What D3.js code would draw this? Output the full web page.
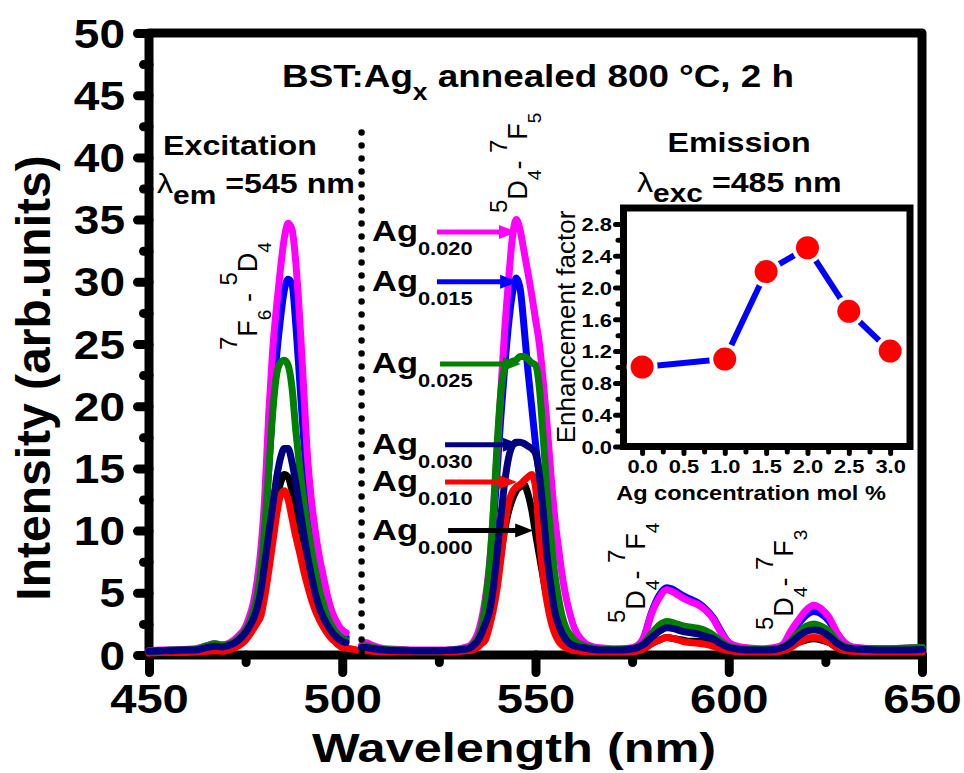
<!DOCTYPE html>
<html>
<head>
<meta charset="utf-8">
<script src="https://cdn.jsdelivr.net/npm/d3@7"></script>
<style>
  body { margin: 0; background: #fff; }
  svg { display: block; }
  text { font-family: "Liberation Sans", Arial, Helvetica, sans-serif; fill: #000; }
</style>
</head>
<body>
<svg id="chart" width="964" height="773"></svg>
<script>
// ---------- spectra: wavelength grids (nm) ----------
const excWavelength = [450,453,456,459,462,465,467,469,471,473,475,476,477,478,479,480,481,482,483,484,485,486,487,488,489,490,491,492,493,494,495,496,497,498,499,500,501,503,505];
const emWavelength = [505,506,508,511,515,520,525,529,531,
  533,534,535,536,537,538,539,540,541,542,543,544,545,546,547,548,549,550,551,552,553,554,555,556,557,558,559,560,
  562,565,568,571,574,
  576,578,580,582,584,586,588,590,592,594,596,598,600,
  603,606,609,612,
  614,616,618,620,622,624,626,628,630,632,
  635,640,645,650];

// ---------- excitation intensities (arb. units), lambda_em = 545 nm ----------
const ag000Exc = [0.25,0.25,0.3,0.3,0.35,0.45,0.55,0.5,0.65,0.95,1.5,2,2.5,3.3,4.6,6.5,8.5,10.5,12.4,13.8,14.5,14.3,13.2,11.6,9.8,8,6.5,5.2,4,3.1,2.4,1.9,1.5,1.2,0.9,0.7,0.6,null,null];
const ag010Exc = [0.15,0.2,0.2,0.2,0.25,0.3,0.35,0.3,0.45,0.7,1.2,1.6,2.1,2.6,3.2,4.8,6.8,9,11.2,12.8,13.2,12.5,11,9.5,8.2,6.8,5.6,4.5,3.6,2.9,2.3,1.8,1.4,1.1,0.8,0.6,0.55,0.45,0.3];
const ag015Exc = [0.3,0.35,0.4,0.4,0.45,0.65,0.75,0.7,0.9,1.3,2,2.7,3.7,5.3,7.5,10.5,15,20,24,27,29.3,30.2,29.8,26.5,22,17.5,13.5,10.5,8.5,7,5.5,4.3,3.3,2.5,2,1.6,1.4,null,null];
const ag020Exc = [0.35,0.4,0.4,0.45,0.5,0.75,0.9,0.8,1.0,1.5,2.3,3.1,4.2,6,8.7,13,19.5,24.5,28,31,33.5,34.7,34.2,31.5,27,21.5,16,12.5,10,8,6.5,5,3.8,3,2.4,2,1.8,null,null];
const ag025Exc = [0.3,0.35,0.4,0.4,0.45,0.75,0.9,0.8,0.9,1.3,2,2.6,3.5,4.8,7,10.5,15,19.5,22.5,23.5,23.7,23.3,21.5,18,15,12.5,10.3,8.5,6.8,5.3,4.2,3.2,2.5,2,1.6,1.3,1.2,null,null];
const ag030Exc = [0.3,0.35,0.35,0.4,0.4,0.6,0.7,0.65,0.8,1.15,1.8,2.3,2.9,3.8,5.3,7.5,9.8,12,14.2,15.8,16.6,16.6,15.5,13.8,11.8,9.8,8,6.4,5,3.9,3.1,2.5,2,1.6,1.3,1.1,1.0,null,null];

// ---------- emission intensities (arb. units), lambda_exc = 485 nm ----------
const ag000Em = [0.4,0.4,0.35,0.3,0.3,0.3,0.3,0.3,0.3,
  0.35,0.55,0.8,1.2,1.8,2.8,4,5.8,8,10,11.5,12.5,13.2,13.5,13.7,13,11.7,9.8,8,6.2,4.5,3.3,2.3,1.5,1.0,0.7,0.55,0.45,
  0.35,0.3,0.3,0.3,0.3,
  0.35,0.5,0.9,1.2,1.4,1.3,1.2,1.1,1.1,1.0,0.8,0.6,0.4,
  0.3,0.3,0.3,0.3,
  0.4,0.7,1.0,1.2,1.3,1.2,1.0,0.6,0.4,0.35,
  0.3,0.3,0.3,0.3];
const ag010Em = [0.35,0.35,0.3,0.25,0.25,0.25,0.25,0.25,0.3,
  0.35,0.45,0.6,0.9,1.2,2.2,3.5,5.2,7.6,10.2,12.2,13.1,13.5,13.7,14,14.3,14.5,13.5,9.5,6.3,4.2,2.7,1.7,1.1,0.75,0.55,0.45,0.35,
  0.3,0.25,0.25,0.25,0.25,
  0.3,0.5,0.9,1.2,1.4,1.3,1.1,1.0,0.95,0.85,0.7,0.5,0.35,
  0.25,0.25,0.25,0.25,
  0.35,0.6,1.0,1.3,1.4,1.3,1.0,0.6,0.35,0.3,
  0.25,0.25,0.25,0.25];
const ag015Em = [0.6,0.7,0.6,0.45,0.4,0.35,0.35,0.4,0.45,
  0.6,0.9,1.4,2.4,4,6.5,10,14.5,19,23,26.5,29,30.3,29.5,26.5,23,20,17,14.5,12,9.5,7.5,5.5,4,2.8,2,1.4,1.0,
  0.7,0.5,0.45,0.45,0.5,
  0.65,1.4,3.4,4.8,5.4,5.2,4.8,4.5,4.2,3.7,3.0,1.9,1.0,
  0.6,0.5,0.45,0.55,
  0.75,1.6,2.5,3.2,3.5,3.3,2.7,1.7,0.9,0.6,
  0.5,0.45,0.5,0.55];
const ag020Em = [0.8,1.0,0.75,0.5,0.45,0.4,0.4,0.45,0.55,
  0.75,1.1,1.7,2.8,4.5,7,11,16,21,26,30,33.5,35,34.2,32.5,30.8,29,27,25,22,18.5,14.5,11,8.5,6.2,4.5,3.2,2.2,
  1.2,0.65,0.55,0.5,0.55,
  0.7,1.4,3.3,4.6,5.25,5.0,4.6,4.3,4.05,3.6,2.9,1.8,1.0,
  0.65,0.55,0.5,0.6,
  0.85,1.9,2.8,3.6,4.0,3.7,3.0,1.8,1.0,0.65,
  0.55,0.5,0.55,0.6];
const ag025Em = [0.65,0.75,0.6,0.45,0.4,0.35,0.35,0.4,0.45,
  0.6,0.9,1.3,2.2,4,6.8,11,16.5,21,23,23.4,23.6,23.7,24,24,23.8,23.5,23.3,21.5,17.5,13,9.5,6.5,4.5,3,2.1,1.6,1.2,
  0.8,0.55,0.45,0.45,0.5,
  0.6,0.95,1.7,2.4,2.7,2.55,2.35,2.25,2.15,1.95,1.6,1.1,0.7,
  0.5,0.45,0.45,0.5,
  0.65,1.1,1.8,2.3,2.5,2.3,1.9,1.1,0.7,0.55,
  0.5,0.5,0.55,0.6];
const ag030Em = [0.6,0.6,0.5,0.4,0.35,0.35,0.35,0.4,0.45,
  0.55,0.8,1.1,1.7,2.5,3.4,5.2,8,11,13.8,15.8,16.8,17.1,17.1,17,16.8,16.6,16.2,14.5,11.5,8,5.5,3.5,2.4,1.7,1.2,0.9,0.75,
  0.6,0.45,0.4,0.4,0.45,
  0.55,0.85,1.4,1.9,2.2,2.1,1.9,1.8,1.7,1.5,1.3,0.9,0.6,
  0.45,0.4,0.4,0.45,
  0.6,0.95,1.5,1.9,2.0,1.9,1.5,0.95,0.6,0.5,
  0.45,0.4,0.4,0.45];

// ---------- legend: Ag fraction, colour, arrow (intensity level, tail / tip wavelength) ----------
const legendFractions = ["0.020","0.015","0.025","0.030","0.010","0.000"];
const legendColors    = ["#ff00ff","#0000ff","#008000","#000080","#ff0000","#000000"];
const arrowLevel = [34.0, 30.0, 23.4, 16.9, 13.9, 10.0];
const arrowTail  = [524.5, 524.5, 525.3, 526.6, 526.6, 527.4];
const arrowTip   = [545.2, 545.5, 546.2, 546.2, 545.2, 549.4];

// ---------- inset: enhancement factor vs Ag concentration ----------
const agConcentration   = [0.0, 1.0, 1.5, 2.0, 2.5, 3.0];
const enhancementFactor = [1.0, 1.1, 2.2, 2.5, 1.7, 1.2];

// ---------- tick values ----------
const intensityTicks  = [0,5,10,15,20,25,30,35,40,45,50];
const wavelengthTicks = [450,500,550,600,650];
const concTicks   = [0.0,0.5,1.0,1.5,2.0,2.5,3.0];
const factorTicks = [0.0,0.4,0.8,1.2,1.6,2.0,2.4,2.8];

// ================= drawing =================
const SX = 1.15;                       // horizontal glyph stretch used for labels
const svg = d3.select("#chart");

const x = d3.scaleLinear().domain([450, 650]).range([149, 922]);
const y = d3.scaleLinear().domain([0, 50]).range([655, 33]);

// stretched text anchored at (px,py)
function sText(parent, px, py, size, anchor = "start", weight = "bold", sx = SX) {
  return parent.append("g")
    .attr("transform", `translate(${px},${py}) scale(${sx},1)`)
    .append("text")
    .attr("text-anchor", anchor)
    .attr("font-size", size)
    .attr("font-weight", weight);
}
function stretchTickText(axisG, dy) {
  axisG.selectAll(".tick text").each(function () {
    const t = d3.select(this);
    const tx = +t.attr("x") || 0, ty = +t.attr("y") || 0;
    t.attr("x", 0).attr("y", 0).attr("transform", `translate(${tx},${ty}) scale(${SX},1)`);
    if (dy) t.attr("dy", dy);
  });
}

// ---- main frame ----
svg.append("rect")
  .attr("x", x.range()[0]).attr("y", y.range()[1])
  .attr("width", x.range()[1] - x.range()[0]).attr("height", y.range()[0] - y.range()[1])
  .attr("fill", "none").attr("stroke", "#000").attr("stroke-width", 9).attr("stroke-linejoin", "round");

// ---- main axes ----
const yMinor = d3.range(2.5, 50, 5);
const xMinor = [475, 525, 575, 625];

const yAxisMinor = svg.append("g").attr("transform", `translate(${x.range()[0]},0)`)
  .call(d3.axisLeft(y).tickValues(yMinor).tickSize(5.5).tickFormat(""));
const yAxis = svg.append("g").attr("transform", `translate(${x.range()[0]},0)`)
  .call(d3.axisLeft(y).tickValues(intensityTicks).tickSize(11.5).tickPadding(12.5));
const xAxisMinor = svg.append("g").attr("transform", `translate(0,${y.range()[0]})`)
  .call(d3.axisBottom(x).tickValues(xMinor).tickSize(7.5).tickFormat(""));
const xAxis = svg.append("g").attr("transform", `translate(0,${y.range()[0]})`)
  .call(d3.axisBottom(x).tickValues(wavelengthTicks).tickSize(17.5).tickPadding(11.5));

[yAxisMinor, yAxis, xAxisMinor, xAxis].forEach(g => {
  g.select(".domain").remove();
  g.selectAll(".tick line").attr("stroke", "#000").attr("stroke-width", 9).attr("stroke-linecap", "round");
  g.attr("font-family", null).attr("font-size", null);
});
yAxis.selectAll(".tick text").attr("font-size", 40).attr("font-weight", "bold");
xAxis.selectAll(".tick text").attr("font-size", 41).attr("font-weight", "bold");
stretchTickText(yAxis, "0.35em");
stretchTickText(xAxis);

// ---- spectra ----
const series = [
  { exc: ag000Exc, em: ag000Em, color: "#000000" },
  { exc: ag010Exc, em: ag010Em, color: "#ff0000" },
  { exc: ag015Exc, em: ag015Em, color: "#0000ff" },
  { exc: ag020Exc, em: ag020Em, color: "#ff00ff" },
  { exc: ag025Exc, em: ag025Em, color: "#008000" },
  { exc: ag030Exc, em: ag030Em, color: "#000080" }
];
const line = d3.line()
  .defined(d => d[1] != null)
  .x(d => x(d[0])).y(d => y(d[1]))
  .curve(d3.curveMonotoneX);

const curves = svg.append("g").attr("fill", "none")
  .attr("stroke-width", 7).attr("stroke-linejoin", "round").attr("stroke-linecap", "round");
series.forEach(s => {
  curves.append("path").attr("stroke", s.color)
    .attr("d", line(excWavelength.map((w, i) => [w, s.exc[i]])));
  curves.append("path").attr("stroke", s.color)
    .attr("d", line(emWavelength.map((w, i) => [w, s.em[i]])));
});

// ---- dotted separator between excitation and emission ----
svg.append("line")
  .attr("x1", x(505)).attr("x2", x(505))
  .attr("y1", y(42)).attr("y2", y(0))
  .attr("stroke", "#000").attr("stroke-width", 6.5)
  .attr("stroke-linecap", "round").attr("stroke-dasharray", "0,13");

// ---- legend labels with arrows ----
legendFractions.forEach((frac, i) => {
  const ya = y(arrowLevel[i]);
  const xt = x(arrowTip[i]), xs = x(arrowTail[i]);
  svg.append("line").attr("x1", xs).attr("x2", xt - 14).attr("y1", ya).attr("y2", ya)
    .attr("stroke", legendColors[i]).attr("stroke-width", 5);
  svg.append("path")
    .attr("d", `M${xt},${ya} L${xt - 18},${ya - 7} L${xt - 18},${ya + 7} Z`)
    .attr("fill", legendColors[i]);
  const t = sText(svg, 372, ya + 9, 30);
  t.append("tspan").text("Ag");
  t.append("tspan").attr("font-size", 19).attr("dy", 14).text(frac);
});

// ---- headings ----
{
  const t = sText(svg, 538, 87, 32, "middle");
  t.append("tspan").text("BST:Ag");
  t.append("tspan").attr("font-size", 23).attr("dy", 13).text("x");
  t.append("tspan").attr("dy", -13).text(" annealed 800 \u00B0C, 2 h");
}
sText(svg, 240, 155, 28, "middle").text("Excitation");
{
  const t = sText(svg, 157, 193, 28);
  t.append("tspan").attr("font-weight", "normal").text("\u03BB");
  t.append("tspan").attr("font-size", 26).attr("dy", 11).text("em");
  t.append("tspan").attr("dy", -11).text(" =545 nm");
}
sText(svg, 739, 152, 28, "middle").text("Emission");
{
  const t = sText(svg, 637, 192, 28);
  t.append("tspan").attr("font-weight", "normal").text("\u03BB");
  t.append("tspan").attr("font-size", 26).attr("dy", 10).text("exc");
  t.append("tspan").attr("dy", -10).text(" =485 nm");
}

// ---- transition labels (vertical) ----
function transitionLabel(px, py, parts) {
  const t = svg.append("g").attr("transform", `translate(${px},${py}) rotate(-90)`)
    .append("text").attr("font-size", 27);
  const shift = { main: 0, sup: -20, sub: 14 };
  const size = { main: 27, sup: 24, sub: 19 };
  let cur = 0;
  parts.forEach(([txt, kind]) => {
    t.append("tspan").attr("font-size", size[kind]).attr("dy", shift[kind] - cur).text(txt);
    cur = shift[kind];
  });
}
transitionLabel(257, 350, [["7","sup"],["F","main"],["6","sub"],[" - ","main"],["5","sup"],["D","main"],["4","sub"]]);
transitionLabel(527, 213, [["5","sup"],["D","main"],["4","sub"],["- ","main"],["7","sup"],["F","main"],["5","sub"]]);
transitionLabel(645, 623, [["5","sup"],["D","main"],["4","sub"],["- ","main"],["7","sup"],["F","main"],["4","sub"]]);
transitionLabel(793, 630, [["5","sup"],["D","main"],["4","sub"],["- ","main"],["7","sup"],["F","main"],["3","sub"]]);

// ---- axis titles ----
svg.append("g").attr("transform", "translate(50,378) rotate(-90)")
  .append("text").attr("text-anchor", "middle").attr("font-size", 48).attr("font-weight", "bold")
  .text("Intensity (arb.units)");
sText(svg, 514, 762, 41, "middle", "bold", 1.23).text("Wavelength (nm)");

// ================= inset =================
const ix = d3.scaleLinear().domain([-0.225, 3.24]).range([623.5, 910]);
const iy = d3.scaleLinear().domain([0, 3]).range([446.5, 208]);
const inset = svg.append("g");

inset.append("rect")
  .attr("x", ix.range()[0]).attr("y", iy.range()[1])
  .attr("width", ix.range()[1] - ix.range()[0]).attr("height", iy.range()[0] - iy.range()[1])
  .attr("fill", "#fff").attr("stroke", "#000").attr("stroke-width", 7);

const iyMinor = d3.range(0.2, 3.0, 0.4);
const ixMinor = [0.25, 0.75, 1.25, 1.75, 2.25, 2.75, 3.25].filter(v => v <= 3.24);

const iyAxisMinor = inset.append("g").attr("transform", `translate(${ix.range()[0]},0)`)
  .call(d3.axisLeft(iy).tickValues(iyMinor).tickSize(5.5).tickFormat(""));
const iyAxis = inset.append("g").attr("transform", `translate(${ix.range()[0]},0)`)
  .call(d3.axisLeft(iy).tickValues(factorTicks).tickSize(8).tickPadding(3.5).tickFormat(d3.format(".1f")));
const ixAxisMinor = inset.append("g").attr("transform", `translate(0,${iy.range()[0]})`)
  .call(d3.axisBottom(ix).tickValues(ixMinor).tickSize(5.5).tickFormat(""));
const ixAxis = inset.append("g").attr("transform", `translate(0,${iy.range()[0]})`)
  .call(d3.axisBottom(ix).tickValues(concTicks).tickSize(7).tickPadding(6).tickFormat(d3.format(".1f")));

[iyAxisMinor, iyAxis, ixAxisMinor, ixAxis].forEach(g => {
  g.select(".domain").remove();
  g.selectAll(".tick line").attr("stroke", "#000").attr("stroke-width", 5).attr("stroke-linecap", "round");
  g.attr("font-family", null).attr("font-size", null);
});
iyAxis.selectAll(".tick text").attr("font-size", 19).attr("font-weight", "bold");
ixAxis.selectAll(".tick text").attr("font-size", 19).attr("font-weight", "bold");
stretchTickText(iyAxis, "0.36em");
stretchTickText(ixAxis);

const pts = agConcentration.map((c, i) => [c, enhancementFactor[i]]);
inset.append("path")
  .attr("d", d3.line().x(d => ix(d[0])).y(d => iy(d[1]))(pts))
  .attr("fill", "none").attr("stroke", "#0000ff").attr("stroke-width", 6).attr("stroke-linecap", "round");
inset.selectAll("circle.halo").data(pts).join("circle").attr("class", "halo")
  .attr("cx", d => ix(d[0])).attr("cy", d => iy(d[1])).attr("r", 15.5).attr("fill", "#fff");
inset.selectAll("circle.pt").data(pts).join("circle").attr("class", "pt")
  .attr("cx", d => ix(d[0])).attr("cy", d => iy(d[1])).attr("r", 11.5).attr("fill", "#ff0000");

sText(inset, 751, 500, 20.5, "middle").text("Ag concentration mol %");
inset.append("g").attr("transform", "translate(575,327) rotate(-90)")
  .append("text").attr("text-anchor", "middle").attr("font-size", 26)
  .text("Enhancement factor");
</script>
</body>
</html>
